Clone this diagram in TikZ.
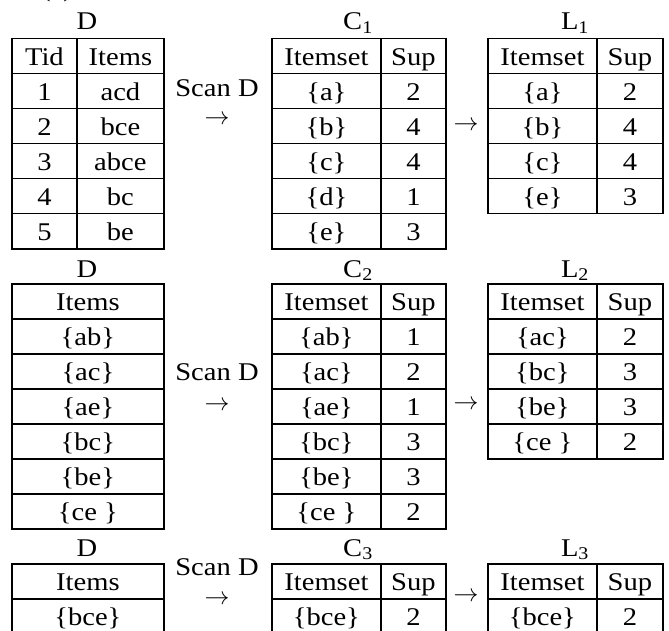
\documentclass[tikz,border=0pt]{standalone}
\usepackage{fontspec}
\setmainfont{Liberation Serif}[FakeStretch=1.12]

\tikzset{
  cell/.style={draw,line width=1.8pt,anchor=north west,inner sep=0pt,
    text height=26.5pt,text depth=8.5pt},
  lab/.style={anchor=base},
}

\begin{document}
\begin{tikzpicture}[x=1pt,y=-1pt,font=\fontsize{25.5pt}{30pt}\selectfont]
  \useasboundingbox (0,0) rectangle (669,631);
  \node[lab] (tag) at (57,-3) {(a)};

  % first pass: D -> C1 -> L1
  \node[lab] (d1) at (87,30) {D};
  \foreach \ta/\tb [count=\i from 0] in {Tid/Items,1/acd,2/bce,3/abce,4/bc,5/be}
  {
    \node[cell,minimum width=65pt] (d1-\i-a) at (11,37.7+35*\i) {\ta};
    \node[cell,minimum width=87pt] (d1-\i-b) at (76,37.7+35*\i) {\tb};
  }
  \node[lab] (c1) at (358,30) {C\textsubscript{1}};
  \foreach \ta/\tb [count=\i from 0] in {Itemset/Sup,\{a\}/2,\{b\}/4,\{c\}/4,\{d\}/1,\{e\}/3}
  {
    \node[cell,minimum width=109pt] (c1-\i-a) at (271,37.7+35*\i) {\ta};
    \node[cell,minimum width=65pt] (c1-\i-b) at (380,37.7+35*\i) {\tb};
  }
  \node[lab] (l1) at (575,30) {L\textsubscript{1}};
  \foreach \ta/\tb [count=\i from 0] in {Itemset/Sup,\{a\}/2,\{b\}/4,\{c\}/4,\{e\}/3}
  {
    \node[cell,minimum width=109pt] (l1-\i-a) at (487,37.7+35*\i) {\ta};
    \node[cell,minimum width=66pt] (l1-\i-b) at (596,37.7+35*\i) {\tb};
  }
  \node[lab] (scan1) at (217,97) {Scan D};
  \node (to1) at (217,120) {$\rightarrow$};
  \node (next1) at (466,126) {$\rightarrow$};

  % second pass: D -> C2 -> L2
  \node[lab] (d2) at (87,277) {D};
  \foreach \ta [count=\i from 0] in {Items,\{ab\},\{ac\},\{ae\},\{bc\},\{be\},\{ce \}}
    \node[cell,minimum width=152pt] (d2-\i) at (11,283+35*\i) {\ta};
  \node[lab] (c2) at (358,277) {C\textsubscript{2}};
  \foreach \ta/\tb [count=\i from 0] in {Itemset/Sup,\{ab\}/1,\{ac\}/2,\{ae\}/1,\{bc\}/3,\{be\}/3,\{ce \}/2}
  {
    \node[cell,minimum width=109pt] (c2-\i-a) at (271,283+35*\i) {\ta};
    \node[cell,minimum width=65pt] (c2-\i-b) at (380,283+35*\i) {\tb};
  }
  \node[lab] (l2) at (575,277) {L\textsubscript{2}};
  \foreach \ta/\tb [count=\i from 0] in {Itemset/Sup,\{ac\}/2,\{bc\}/3,\{be\}/3,\{ce \}/2}
  {
    \node[cell,minimum width=109pt] (l2-\i-a) at (487,283+35*\i) {\ta};
    \node[cell,minimum width=66pt] (l2-\i-b) at (596,283+35*\i) {\tb};
  }
  \node[lab] (scan2) at (217,380) {Scan D};
  \node (to2) at (217,406) {$\rightarrow$};
  \node (next2) at (466,405) {$\rightarrow$};

  % third pass: D -> C3 -> L3
  \node[lab] (d3) at (87,556) {D};
  \foreach \ta [count=\i from 0] in {Items,\{bce\}}
    \node[cell,minimum width=152pt] (d3-\i) at (11,563+35*\i) {\ta};
  \node[lab] (c3) at (358,556) {C\textsubscript{3}};
  \foreach \ta/\tb [count=\i from 0] in {Itemset/Sup,\{bce\}/2}
  {
    \node[cell,minimum width=109pt] (c3-\i-a) at (271,563+35*\i) {\ta};
    \node[cell,minimum width=65pt] (c3-\i-b) at (380,563+35*\i) {\tb};
  }
  \node[lab] (l3) at (575,556) {L\textsubscript{3}};
  \foreach \ta/\tb [count=\i from 0] in {Itemset/Sup,\{bce\}/2}
  {
    \node[cell,minimum width=109pt] (l3-\i-a) at (487,563+35*\i) {\ta};
    \node[cell,minimum width=66pt] (l3-\i-b) at (596,563+35*\i) {\tb};
  }
  \node[lab] (scan3) at (217,575) {Scan D};
  \node (to3) at (217,600) {$\rightarrow$};
  \node (next3) at (466,597) {$\rightarrow$};
\end{tikzpicture}
\end{document}
